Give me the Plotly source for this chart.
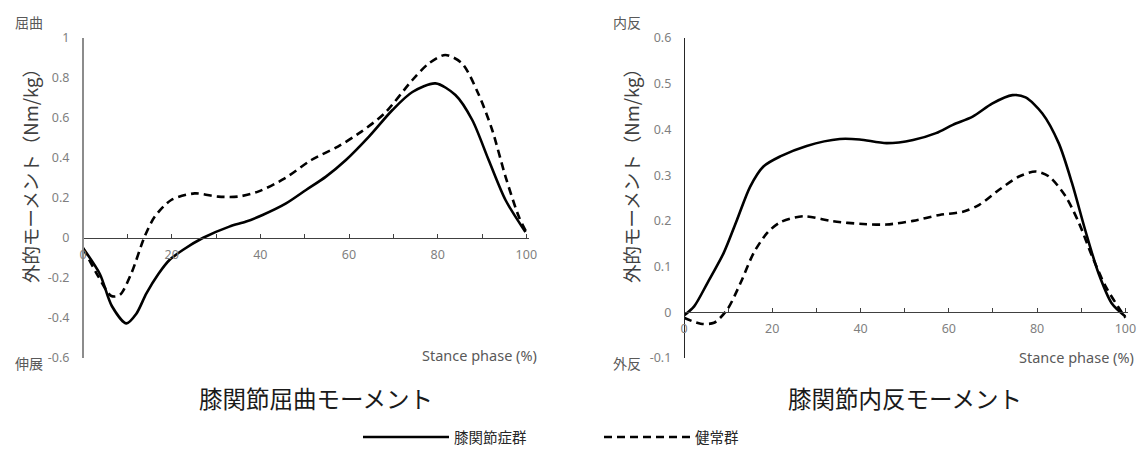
import plotly.graph_objects as go

# ---------------- data ----------------
flex_x_patient = [0, 3.8, 6.5, 9.8, 12, 14.3, 17, 19.5, 22.5, 27, 33, 36.8, 40.5, 45.8, 50.3, 54.8, 59.3, 64.5, 69.8, 74.3, 79.5, 84, 87.8, 91.5, 95.3, 99.8]
flex_y_patient = [-0.05, -0.18, -0.34, -0.427, -0.38, -0.277, -0.18, -0.11, -0.06, 0.0, 0.057, 0.082, 0.115, 0.173, 0.24, 0.307, 0.39, 0.507, 0.64, 0.73, 0.773, 0.715, 0.59, 0.39, 0.19, 0.03]

flex_x_healthy = [0, 3.4, 6.4, 8.3, 10.9, 13.9, 16.2, 19.9, 25.2, 30.5, 35, 39.5, 45.5, 51.5, 57.5, 62.8, 68, 74.3, 78, 81.7, 85.5, 89.2, 92.3, 95.3, 98.3, 100]
flex_y_healthy = [-0.05, -0.19, -0.29, -0.285, -0.177, 0.007, 0.107, 0.19, 0.223, 0.207, 0.207, 0.232, 0.298, 0.39, 0.457, 0.532, 0.623, 0.79, 0.873, 0.915, 0.873, 0.72, 0.54, 0.307, 0.107, 0.03]

var_x_patient = [0, 2.3, 5.3, 9, 12, 15, 18, 21.8, 27.8, 35.3, 39.8, 45.9, 51.9, 57.1, 60.9, 65.4, 69.9, 74.4, 77.4, 81.2, 84.9, 87.9, 90.9, 93.9, 96.9, 100]
var_y_patient = [-0.007, 0.013, 0.064, 0.13, 0.202, 0.275, 0.319, 0.341, 0.364, 0.379, 0.378, 0.37, 0.377, 0.392, 0.41, 0.428, 0.457, 0.475, 0.47, 0.435, 0.37, 0.283, 0.18, 0.086, 0.02, -0.009]

var_x_healthy = [0, 3.8, 6.8, 9.8, 12.8, 15.8, 18.8, 21.8, 27, 33.8, 40.6, 45.9, 51.9, 57.9, 63.2, 66.9, 71.4, 75.9, 79.7, 82.7, 86.5, 89.5, 92.5, 95.5, 98.5, 100]
var_y_healthy = [-0.012, -0.025, -0.023, 0.006, 0.064, 0.13, 0.173, 0.197, 0.21, 0.199, 0.193, 0.192, 0.2, 0.213, 0.22, 0.235, 0.268, 0.297, 0.308, 0.297, 0.253, 0.195, 0.122, 0.057, 0.01, -0.012]

series_names = ["膝関節症群", "健常群"]
x_tickvals = [0, 20, 40, 60, 80, 100]
x_ticktext = ["0", "20", "40", "60", "80", "100"]
x_minor_tickvals = [10, 30, 50, 70, 90]
flex_tickvals = [-0.6, -0.4, -0.2, 0, 0.2, 0.4, 0.6, 0.8, 1]
flex_ticktext = ["-0.6", "-0.4", "-0.2", "0", "0.2", "0.4", "0.6", "0.8", "1"]
var_tickvals = [-0.1, 0, 0.1, 0.2, 0.3, 0.4, 0.5, 0.6]
var_ticktext = ["-0.1", "0", "0.1", "0.2", "0.3", "0.4", "0.5", "0.6"]
titles = ["膝関節屈曲モーメント", "膝関節内反モーメント"]
y_title = "外的モーメント（Nm/kg）"
x_title = "Stance phase (%)"
flex_labels = ["屈曲", "伸展"]
var_labels = ["内反", "外反"]

# ---------------- layout geometry ----------------
W, H = 1145, 451
def px_x(p):
    return p / W
def px_y(p):
    return 1 - p / H

top, bot = 38, 358
yd = [px_y(bot), px_y(top)]
xd1 = [px_x(83), px_x(529)]
xd2 = [px_x(684), px_x(1128)]
flex_range = [-0.6, 1]
var_range = [-0.1, 0.6]

def zero_pos(r):
    return yd[0] + (0 - r[0]) / (r[1] - r[0]) * (yd[1] - yd[0])

JP = "Noto Sans CJK JP"
NUM = "Noto Sans, Noto Sans CJK JP"
TICK_COLOR = "#7f7f7f"

fig = go.Figure()
solid = dict(color="black", width=2.6, shape="spline", smoothing=0.8)
dashed = dict(color="black", width=2.6, dash="8px,5px", shape="spline", smoothing=0.8)

fig.add_trace(go.Scatter(x=flex_x_patient, y=flex_y_patient, mode="lines", line=solid,
                         name=series_names[0], xaxis="x", yaxis="y", showlegend=True))
fig.add_trace(go.Scatter(x=flex_x_healthy, y=flex_y_healthy, mode="lines", line=dashed,
                         name=series_names[1], xaxis="x", yaxis="y", showlegend=True))
fig.add_trace(go.Scatter(x=var_x_patient, y=var_y_patient, mode="lines", line=solid,
                         name=series_names[0], xaxis="x2", yaxis="y2", showlegend=False))
fig.add_trace(go.Scatter(x=var_x_healthy, y=var_y_healthy, mode="lines", line=dashed,
                         name=series_names[1], xaxis="x2", yaxis="y2", showlegend=False))

def xaxis(domain, rng):
    return dict(domain=domain, range=[0, 100.6], anchor="free",
                position=zero_pos(rng), automargin=False,
                tickvals=x_tickvals, ticktext=x_ticktext,
                ticks="inside", ticklen=4, tickcolor="#404040", tickwidth=1,
                minor=dict(tickvals=x_minor_tickvals, ticks="inside", ticklen=4,
                           tickcolor="#404040", tickwidth=1),
                showline=True, linecolor="#404040", linewidth=1.3,
                showgrid=False, zeroline=False,
                tickfont=dict(family=NUM, size=12.5, color=TICK_COLOR),
                ticklabelstandoff=5)

def yaxis(domain_x, rng, tv, tt, lcolor, lw):
    return dict(domain=yd, range=rng, anchor="free", position=domain_x[0],
                automargin=False,
                tickvals=tv, ticktext=tt, ticks="", showline=True,
                linecolor=lcolor, linewidth=lw, showgrid=False, zeroline=False,
                tickfont=dict(family=NUM, size=12.5, color=TICK_COLOR),
                ticklabelstandoff=10)

fig.update_layout(
    width=W, height=H,
    margin=dict(l=0, r=0, t=0, b=0, autoexpand=False),
    paper_bgcolor="white", plot_bgcolor="rgba(0,0,0,0)",
    xaxis=xaxis(xd1, flex_range),
    yaxis=yaxis(xd1, flex_range, flex_tickvals, flex_ticktext, "#8c8c8c", 2),
    xaxis2=xaxis(xd2, var_range),
    yaxis2=yaxis(xd2, var_range, var_tickvals, var_ticktext, "#262626", 1.3),
    legend=dict(orientation="h", x=px_x(358), y=px_y(437), xanchor="left", yanchor="middle",
                itemwidth=86, font=dict(family=JP, size=14.5, color="#262626"),
                entrywidth=140, bgcolor="rgba(0,0,0,0)"),
)

ann = []
label_font = dict(family=JP, size=14, color="#595959")
# side direction labels
ann.append(dict(x=px_x(29), y=px_y(22), text=flex_labels[0], font=label_font))
ann.append(dict(x=px_x(29), y=px_y(363), text=flex_labels[1], font=label_font))
ann.append(dict(x=px_x(627), y=px_y(22), text=var_labels[0], font=label_font))
ann.append(dict(x=px_x(627), y=px_y(363), text=var_labels[1], font=label_font))
# y titles
yt_font = dict(family=JP, size=18.5, color="#404040")
ann.append(dict(x=px_x(30), y=px_y(171), text=y_title, textangle=-90, font=yt_font))
ann.append(dict(x=px_x(631), y=px_y(171), text=y_title, textangle=-90, font=yt_font))
# x titles
xt_font = dict(family=NUM, size=14.5, color="#595959")
ann.append(dict(x=px_x(479), y=px_y(355), text=x_title, font=xt_font))
ann.append(dict(x=px_x(1076), y=px_y(357), text=x_title, font=xt_font))
# chart titles
tt_font = dict(family=JP, size=23.5, color="#1a1a1a")
ann.append(dict(x=px_x(316), y=px_y(398), text=titles[0], font=tt_font))
ann.append(dict(x=px_x(905), y=px_y(398), text=titles[1], font=tt_font))
for a in ann:
    a.update(xref="paper", yref="paper", showarrow=False, xanchor="center", yanchor="middle")
fig.update_layout(annotations=ann)

fig.write_html("out.html", config={"displayModeBar": False},
               post_script="document.body.style.margin='0px';")
